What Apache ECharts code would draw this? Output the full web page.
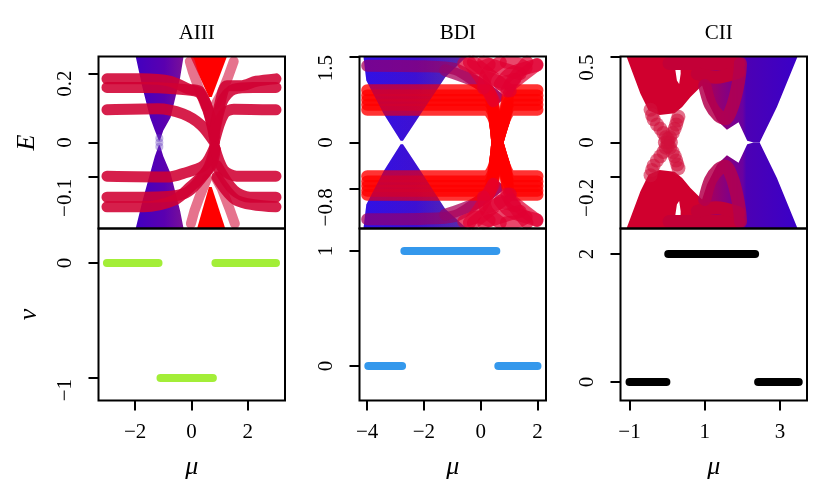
<!DOCTYPE html>
<html><head><meta charset="utf-8">
<style>html,body{margin:0;padding:0;background:#fff}#c{width:829px;height:499px}</style>
<script src="https://cdn.jsdelivr.net/npm/echarts@6/dist/echarts.min.js"></script>
</head><body><div id="c"></div>
<script>
const titles = ['AIII','BDI','CII'];
const muTicks = [[-2,0,2],[-4,-2,0,2],[-1,1,3]];
const energyTicks = [[-0.1,0,0.2],[-0.8,0,1.5],[-0.2,0,0.5]];
const nuTicks = [[-1,0],[0,1],[0,2]];
const muLimits = [[-3.3,3.32],[-4.27,2.3],[-1.24,3.72]];
const energyLimits = [[-0.25,0.25],[-1.5,1.5],[-0.5,0.5]];
const nuLimits = [[-1.195,0.3],[-0.3,1.195],[-0.29,2.4]];

// winding number segments: [mu0, mu1, nu]
const nuAIII = [[-3,-1.17,0],[-1.1,0.76,-1],[0.85,3,0]];
const nuBDI = [[-3.96,-2.77,0],[-2.69,0.55,1],[0.62,2,0]];
const nuCII = [[-1,-0.02,0],[0.03,2.34,2],[2.42,3.5,0]];

// AIII spectrum
const aiiiBlueUp = [[-1.98,.25],[-1.74,.16],[-1.47,.073],[-1.3,.035],[-1.16,.006],[-1.12,.006],[-1.0,.035],[-.74,.073],[-.4,.19],[-.28,.25]];
const aiiiBlueDown = [[-1.98,-.25],[-1.74,-.17],[-1.47,-.09],[-1.3,-.04],[-1.16,-.008],[-1.12,-.008],[-1.0,-.04],[-.74,-.09],[-.4,-.2],[-.28,-.25]];
const aiiiRedUp = [[-.04,.25],[1.26,.25],[.72,.132],[.62,.132]];
const aiiiRedDown = [[.2,-.25],[1.2,-.25],[.72,-.129],[.62,-.129]];
const aiiiSideUp = [[[-.06,.236],[.05,.205],[.25,.16],[.5,.105]],[[1.5,.236],[1.3,.19],[1.05,.14],[.85,.11]]];
const aiiiSideDown = [[[-.02,-.236],[.1,-.2],[.3,-.155],[.55,-.105]],[[1.54,-.236],[1.34,-.19],[1.08,-.135],[.88,-.105]]];
const aiiiNeck = [[-1.14,.012],[-1.14,0],[-1.14,-.012]];
const aiiiBands = [
 [[-3,.185],[-1.8,.185],[-.74,.178],[-.1,.155],[.3,.148],[.6,.09],[.82,.015]],
 [[-3,.16],[-1.7,.16],[-.6,.156],[.25,.146],[.55,.105],[.8,.03]],
 [[-3,.095],[-1.2,.098],[-.3,.083],[.35,.05],[.82,0]],
 [[.8,.03],[1.0,.11],[1.26,.165],[1.75,.165],[2.3,.178],[3,.185]],
 [[.8,.02],[1.1,.12],[1.5,.155],[2.2,.16],[3,.16]],
 [[.82,.005],[1.14,.082],[1.5,.097],[3,.095]],
 [[-3,-.098],[-.8,-.1],[-.3,-.09],[.44,-.067],[.82,-.014]],
 [[-3,-.159],[-1.7,-.159],[-.27,-.149],[.55,-.081],[.82,-.02]],
 [[-3,-.187],[-1.7,-.187],[-.62,-.168],[-.04,-.129],[.67,-.071],[.85,-.02]],
 [[.82,-.014],[1.14,-.08],[1.6,-.098],[3,-.098]],
 [[.9,-.067],[1.5,-.139],[2.08,-.159],[3,-.159]],
 [[.9,-.1],[1.6,-.168],[3,-.187]]
];

// BDI spectrum
const bdiBlueUp = [[-4.13,1.5],[-4.03,1.08],[-3.42,.5],[-2.82,.03],[-2.74,.03],[-2.11,.5],[-1.25,1.14],[-.49,1.5]];
const bdiBlueDown = [[-4.13,-1.5],[-4.03,-1.08],[-3.42,-.5],[-2.82,-.03],[-2.74,-.03],[-2.11,-.5],[-1.25,-1.16],[-.49,-1.5]];
const bdiBands = [
 [[-4,.91],[.2,.91],[.42,.73],[.52,.3],[.58,.02]],
 [[-4,.82],[.2,.82],[.42,.66],[.52,.3],[.58,.02]],
 [[-4,.74],[.2,.74],[.42,.61],[.52,.3],[.58,.02]],
 [[-4,.66],[.2,.66],[.42,.54],[.52,.3],[.58,.02]],
 [[-4,.57],[.2,.57],[.42,.46],[.52,.3],[.58,.02]],
 [[-4,-.59],[.2,-.59],[.42,-.47],[.52,-.3],[.58,-.02]],
 [[-4,-.68],[.2,-.68],[.42,-.55],[.52,-.3],[.58,-.02]],
 [[-4,-.76],[.2,-.76],[.42,-.61],[.52,-.3],[.58,-.02]],
 [[-4,-.84],[.2,-.84],[.42,-.67],[.52,-.3],[.58,-.02]],
 [[-4,-.91],[.2,-.91],[.42,-.73],[.52,-.3],[.58,-.02]],
 [[.6,.02],[.8,.35],[1.1,.91],[2,.91]],
 [[.6,.02],[.8,.35],[1.1,.82],[2,.82]],
 [[.6,.02],[.8,.35],[1.1,.74],[2,.74]],
 [[.6,.02],[.8,.35],[1.1,.66],[2,.66]],
 [[.6,.02],[.8,.35],[1.1,.57],[2,.57]],
 [[.6,-.02],[.8,-.35],[1.1,-.59],[2,-.59]],
 [[.6,-.02],[.8,-.35],[1.1,-.68],[2,-.68]],
 [[.6,-.02],[.8,-.35],[1.1,-.76],[2,-.76]],
 [[.6,-.02],[.8,-.35],[1.1,-.84],[2,-.84]],
 [[.6,-.02],[.8,-.35],[1.1,-.91],[2,-.91]]
];
const bdiTangleUp = [
 [[-.4,1.4],[-.02,1.14],[.45,.73]],
 [[-.26,1.4],[.57,1.08],[1.04,.9]],
 [[.69,1.4],[.22,1.2],[.1,.95]],
 [[1.98,1.35],[1.04,1.2],[.69,1.02]],
 [[1.63,1.4],[1.16,1.1],[.92,.9]],
 [[.1,1.4],[.69,1.3],[1.39,1.2]],
 [[1.04,1.0],[1.5,1.18],[1.98,1.36]],
 [[.3,1.12],[.8,1.05],[1.2,1.1]],
 [[.9,1.4],[1.3,1.38],[1.6,1.3]],
 [[-.6,1.38],[-.1,1.3],[.3,1.36]]
];
const bdiTangleDown = [
 [[-.4,-1.4],[-.02,-1.14],[.45,-.73]],
 [[-.26,-1.4],[.57,-1.08],[1.04,-.9]],
 [[.69,-1.4],[.22,-1.2],[.1,-.95]],
 [[1.98,-1.35],[1.04,-1.2],[.69,-1.02]],
 [[1.63,-1.4],[1.16,-1.1],[.92,-.9]],
 [[.1,-1.4],[.69,-1.3],[1.39,-1.2]],
 [[1.04,-1.0],[1.5,-1.18],[1.98,-1.36]],
 [[.3,-1.12],[.8,-1.05],[1.2,-1.1]],
 [[.9,-1.4],[1.3,-1.38],[1.6,-1.3]],
 [[-.6,-1.38],[-.1,-1.3],[.3,-1.36]]
];
const bdiPurpleBands = [
 [[-4,1.34],[-2,1.33],[-.9,1.28],[-.14,1.05],[.57,.79]],
 [[-1.25,1.26],[-.14,1.05],[.57,.79]],
 [[-4,-1.34],[-2,-1.33],[-.9,-1.28],[-.14,-1.05],[.57,-.79]],
 [[-1.25,-1.26],[-.14,-1.05],[.57,-.79]]
];

// CII spectrum
const ciiFillUp = [[-1.08,.5],[-.71,.283],[-.49,.186],[-.2,.16],[.2,.17],[.4,.206],[.62,.264],[.93,.331],[1.06,.244],[1.33,.128],[1.59,.074],[1.9,.118],[2.13,.01],[2.3,0],[2.46,0],[2.92,.206],[3.47,.5],[.35,.5],[.36,.4],[.32,.34],[.26,.36],[.22,.42],[.22,.5]];
const ciiFillDown = [[-1.08,-.5],[-.71,-.283],[-.49,-.186],[-.2,-.16],[.2,-.17],[.4,-.206],[.62,-.264],[.93,-.331],[1.06,-.244],[1.33,-.128],[1.59,-.074],[1.9,-.118],[2.13,-.01],[2.3,0],[2.46,0],[2.92,-.206],[3.47,-.5],[.35,-.5],[.36,-.4],[.32,-.34],[.26,-.36],[.22,-.42],[.22,-.5]];
const ciiRings = [
 [[1.0,.331],[1.15,.22],[1.37,.155],[1.55,.138],[1.73,.206],[1.86,.31],[1.93,.4],[1.95,.46]],
 [[1.0,-.331],[1.15,-.22],[1.37,-.155],[1.55,-.138],[1.73,-.206],[1.86,-.31],[1.93,-.4],[1.95,-.46]]
];
const ciiCaps = [
 [[.05,.46],[1.9,.46]],[[.8,.4],[1.3,.38],[1.9,.41]],
 [[.05,-.46],[1.9,-.46]],[[.8,-.4],[1.3,-.38],[1.9,-.41]]
];
const ciiNeck = [[-.44,.19],[-.4,.16],[-.36,.135],[-.27,.105],[-.18,.08],[-.1,.055],[-.04,.03],[.02,0],[.08,.03],[.15,.055],[.2,.08],[.24,.105],[.27,.128],[.3,.15],
 [-.44,-.19],[-.4,-.16],[-.36,-.135],[-.27,-.105],[-.18,-.08],[-.1,-.055],[-.04,-.03],[.08,-.03],[.15,-.055],[.2,-.08],[.24,-.105],[.27,-.128],[.3,-.15],[-.06,0],[.1,0],[.02,.02],[.02,-.02]];

// how far down each energy tick label sits below its tick
const energyLabelShift = [{'-0.1':21,'0':0,'0.2':10},{'-0.8':19,'0':0,'1.5':11.5},{'-0.2':21,'0':0,'0.5':11}];
const nuLabelShift = [{'-1':12,'0':0},{'0':0,'1':0},{'0':0,'2':0}];

const F='"Liberation Serif",serif';
const FS=21;
const lefts=[98.5,359.5,620.5], W=186.5, H=172, T1=56.5, T2=228.5;
const fmt=v=>String(v).replace('-','\u2212');
const grids=[],xAxes=[],yAxes=[],series=[],titleList=[];
const nameStyle={fontFamily:F,fontStyle:'italic',fontSize:26,color:'#000'};
lefts.forEach((l,i)=>{
  grids.push({left:l,top:T1,width:W,height:H,show:true,z:10,backgroundColor:'transparent',borderColor:'#000',borderWidth:2});
  grids.push({left:l,top:T2,width:W,height:H,show:true,z:10,backgroundColor:'transparent',borderColor:'#000',borderWidth:2});
  xAxes.push({gridIndex:2*i,type:'value',min:muLimits[i][0],max:muLimits[i][1],axisLine:{show:false,onZero:false},axisTick:{show:false},axisLabel:{show:false},splitLine:{show:false}});
  xAxes.push({gridIndex:2*i+1,type:'value',position:'bottom',min:muLimits[i][0],max:muLimits[i][1],axisLine:{show:false,onZero:false},splitLine:{show:false},
    axisTick:{show:true,length:10,customValues:muTicks[i],lineStyle:{color:'#000',width:2}},
    axisLabel:{customValues:muTicks[i],formatter:fmt,fontFamily:F,fontSize:FS,color:'#000',margin:21},
    name:'\u03bc',nameLocation:'middle',nameGap:54,nameTextStyle:nameStyle});
  const yCommon=(t,shift)=>{
    const rich={};
    t.forEach(v=>{ rich['s'+String(shift[String(v)]).replace('.','_')]={padding:[0,2*shift[String(v)],0,0],fontFamily:F,fontSize:FS,color:'#000'}; });
    return {axisLine:{show:false,onZero:false},splitLine:{show:false},
    axisTick:{show:true,length:10,customValues:t,lineStyle:{color:'#000',width:2}},
    axisLabel:{customValues:t,rotate:90,fontFamily:F,fontSize:FS,color:'#000',margin:23,rich,
      formatter:v=>'{s'+String(shift[String(v)]).replace('.','_')+'|'+fmt(v)+'}'}};
  };
  const ey=Object.assign({gridIndex:2*i,type:'value',position:'left',min:energyLimits[i][0],max:energyLimits[i][1]},yCommon(energyTicks[i],energyLabelShift[i]));
  const ny=Object.assign({gridIndex:2*i+1,type:'value',position:'left',min:nuLimits[i][0],max:nuLimits[i][1]},yCommon(nuTicks[i],nuLabelShift[i]));
  if(i===0){
    ey.name='E';ey.nameLocation='middle';ey.nameGap=58;ey.nameRotate=90;ey.nameTextStyle=nameStyle;
    ny.name='\u03bd';ny.nameLocation='middle';ny.nameGap=56;ny.nameRotate=90;ny.nameTextStyle=nameStyle;
  }
  yAxes.push(ey,ny);
  titleList.push({text:titles[i],left:l+W/2,top:18,textAlign:'center',textStyle:{fontFamily:F,fontWeight:'normal',fontSize:21,color:'#000'}});
});
function poly(ax,pts,stops,op,top){
  series.push({type:'custom',xAxisIndex:ax,yAxisIndex:ax,clip:true,silent:true,z:top?5:2,data:pts,encode:{x:0,y:1},
    renderItem(p,api){
      if(p.dataIndex!==0) return {type:'group',children:[]};
      return {type:'polygon',z2:top?50:0,shape:{points:pts.map(q=>api.coord(q))},
        style:{fill:new echarts.graphic.LinearGradient(0,0,1,0,stops.map(s=>({offset:s[0],color:s[1]}))),opacity:op==null?1:op}};
    }});
}
function line(ax,pts,color,w,smooth){
  series.push({type:'line',xAxisIndex:ax,yAxisIndex:ax,data:pts,showSymbol:false,silent:true,smooth:smooth==null?0.3:smooth,
    lineStyle:{color,width:w,cap:'round',join:'round'}});
}
function dots(ax,pts,color,size,op){
  series.push({type:'scatter',xAxisIndex:ax,yAxisIndex:ax,data:pts,silent:true,symbolSize:size,itemStyle:{color,opacity:op}});
}
const crimson='rgba(208,0,50,0.88)';
const blueStops=[[0,'#4200c0'],[.6,'#5a00b0'],[1,'#7a1098']];
poly(0,aiiiBlueUp,blueStops);poly(0,aiiiBlueDown,blueStops);
dots(0,aiiiNeck,'#6a40c0',8,.4);
const redStops=[[0,'#ff0000'],[1,'#ff0000']];
poly(0,aiiiRedUp,redStops);poly(0,aiiiRedDown,redStops);
aiiiSideUp.concat(aiiiSideDown).forEach(b=>line(0,b,'rgba(216,40,80,0.65)',10,0));
aiiiBands.forEach(b=>line(0,b,crimson,11));

const bdiBlue=[[0,'#2400e4'],[.5,'#3000d0'],[1,'#5020a0']];
poly(2,bdiBlueUp,bdiBlue,.92);poly(2,bdiBlueDown,bdiBlue,.92);
bdiPurpleBands.forEach(b=>line(2,b,'rgba(170,0,90,0.75)',12));
bdiBands.forEach(b=>line(2,b,'rgba(255,0,0,0.8)',12));
bdiTangleUp.concat(bdiTangleDown).forEach(b=>line(2,b,'rgba(225,0,50,0.72)',13));
poly(2,bdiBlueUp,bdiBlue,.22,true);poly(2,bdiBlueDown,bdiBlue,.22,true);

const ciiStops=[[0,'#d0002e'],[.415,'#d0002e'],[.47,'#a8005a'],[.68,'#6a00a0'],[.7,'#4c00b4'],[1,'#3a00c8']];
poly(4,ciiFillUp,ciiStops);poly(4,ciiFillDown,ciiStops);
ciiCaps.forEach(b=>line(4,b,'rgba(195,0,55,1)',13));
ciiRings.forEach(b=>line(4,b,'rgba(180,0,78,0.85)',13));
dots(4,ciiNeck,'#d0103c',14,.6);

[nuAIII,nuBDI,nuCII].forEach((segs,i)=>{
  const col=['#a3ee38','#3498ec','#000000'][i];
  segs.forEach(s=>line(2*i+1,[[s[0],s[2]],[s[1],s[2]]],col,8,0));
});
const chart=echarts.init(document.getElementById('c'),null,{renderer:'canvas'});
chart.setOption({animation:false,backgroundColor:'#fff',title:titleList,grid:grids,xAxis:xAxes,yAxis:yAxes,series});
</script></body></html>
